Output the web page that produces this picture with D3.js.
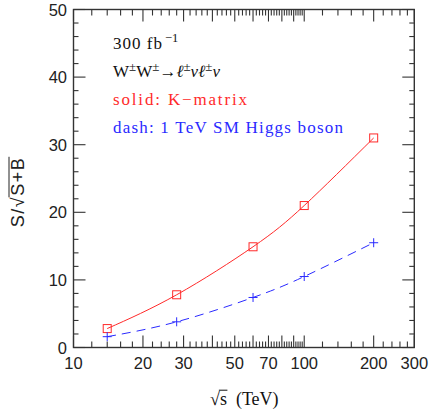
<!DOCTYPE html>
<html><head><meta charset="utf-8">
<script src="https://cdn.jsdelivr.net/npm/d3@7"></script>
<style>html,body{margin:0;padding:0;background:#fff;}</style>
</head><body>
<svg id="c" width="432" height="415"></svg>
<script>
// ---- data ----
const energies = [14, 28, 60, 100, 200];              // sqrt(s) in TeV
const kMatrix = [2.8, 7.8, 14.9, 21.0, 31.0];         // solid red
const higgs = [1.6, 3.8, 7.4, 10.5, 15.5];             // dashed blue
const xMajorTicks = [10, 20, 30, 40, 50, 60, 70, 80, 90, 100, 200, 300];
const xTickLabels = [10, 20, 30, 50, 70, 100, 200, 300];
const xMinorTicks = [12,14,16,18,22,24,26,28,32,34,36,38,42,44,46,48,52,54,56,58,62,64,66,68,72,74,76,78,82,84,86,88,92,94,96,98,120,140,160,180,220,240,260,280];
const yMajorTicks = [0, 10, 20, 30, 40, 50];
const yMinorTicks = d3.range(0, 51, 2).filter(v => v % 10 !== 0);
const annotations = ["300 fb", "solid: K\u2212matrix", "dash: 1 TeV SM Higgs boson"];

const svg = d3.select("#c");
const L = 73.5, R = 414.3, T = 9.5, B = 347.5;
const x = d3.scaleLog().domain([10, 300]).range([L, R]);
const y = d3.scaleLinear().domain([0, 50]).range([B, T]);
const frameColor = "#333";
const RED = "#ff2a2a", BLUE = "#2a2aff";

svg.append("rect").attr("x", L).attr("y", T).attr("width", R - L).attr("height", B - T)
  .attr("fill", "none").attr("stroke", frameColor).attr("stroke-width", 1.4);

const g = svg.append("g").attr("stroke", frameColor).attr("stroke-width", 1.1);
xMajorTicks.forEach(v => {
  g.append("line").attr("x1", x(v)).attr("x2", x(v)).attr("y1", B).attr("y2", B - 12);
  g.append("line").attr("x1", x(v)).attr("x2", x(v)).attr("y1", T).attr("y2", T + 12);
});
xMinorTicks.forEach(v => {
  g.append("line").attr("x1", x(v)).attr("x2", x(v)).attr("y1", B).attr("y2", B - 6);
  g.append("line").attr("x1", x(v)).attr("x2", x(v)).attr("y1", T).attr("y2", T + 6);
});
yMajorTicks.forEach(v => {
  g.append("line").attr("x1", L).attr("x2", L + 12).attr("y1", y(v)).attr("y2", y(v));
  g.append("line").attr("x1", R).attr("x2", R - 12).attr("y1", y(v)).attr("y2", y(v));
});
yMinorTicks.forEach(v => {
  g.append("line").attr("x1", L).attr("x2", L + 5).attr("y1", y(v)).attr("y2", y(v));
  g.append("line").attr("x1", R).attr("x2", R - 5).attr("y1", y(v)).attr("y2", y(v));
});

const sans = "'Liberation Sans', Arial, sans-serif";
const serif = "'Liberation Serif', 'Times New Roman', serif";
svg.append("g").selectAll("text").data(xTickLabels).join("text")
  .attr("x", d => x(d)).attr("y", 368.5).attr("text-anchor", "middle")
  .attr("font-family", sans).attr("font-size", 16.5).attr("fill", "#222").text(d => d);
svg.append("g").selectAll("text").data(yMajorTicks).join("text")
  .attr("x", 67).attr("y", d => y(d) + 6).attr("text-anchor", "end")
  .attr("font-family", sans).attr("font-size", 16.5).attr("fill", "#222").text(d => d);

const line = d3.line().curve(d3.curveNatural);
const redPts = energies.map((e, i) => [x(e), y(kMatrix[i])]);
const bluePts = energies.map((e, i) => [x(e), y(higgs[i])]);
svg.append("path").attr("d", line(redPts)).attr("fill", "none").attr("stroke", RED).attr("stroke-width", 1);
svg.append("path").attr("d", line(bluePts)).attr("fill", "none").attr("stroke", BLUE).attr("stroke-width", 1)
  .attr("stroke-dasharray", "9,6");

svg.append("g").selectAll("rect").data(redPts).join("rect")
  .attr("x", d => d[0] - 4).attr("y", d => d[1] - 4).attr("width", 8).attr("height", 8)
  .attr("fill", "none").attr("stroke", RED).attr("stroke-width", 1);
const cross = svg.append("g").attr("stroke", BLUE).attr("stroke-width", 1);
bluePts.forEach(d => {
  cross.append("line").attr("x1", d[0] - 4.5).attr("x2", d[0] + 4.5).attr("y1", d[1]).attr("y2", d[1]);
  cross.append("line").attr("x1", d[0]).attr("x2", d[0]).attr("y1", d[1] - 4.5).attr("y2", d[1] + 4.5);
});

// annotations
const FS = 17;
const a1 = svg.append("text").attr("x", 113).attr("y", 49).attr("font-family", serif)
  .attr("font-size", FS).attr("fill", "#111");
a1.append("tspan").text(annotations[0]).attr("textLength", 49);
a1.append("tspan").attr("x", 165).attr("dy", -7).attr("font-size", 12.5).text("\u22121");

// W±W± → ℓ±νℓ±ν
const a2 = svg.append("text").attr("x", 113).attr("y", 77).attr("font-family", serif)
  .attr("font-size", FS).attr("fill", "#111");
const parts = [["W",0,null],["\u00B1",-6,13],["W",6,null],["\u00B1",-6,13],["\u2192",6,17],
  ["\u2113",0,null,true],["\u00B1",-6,13],["\u03BD",6,null,true],["\u2113",0,null,true],["\u00B1",-6,13],["\u03BD",6,null,true]];
parts.forEach(p => {
  const t = a2.append("tspan").attr("dy", p[1]).text(p[0]);
  if (p[2]) t.attr("font-size", p[2]);
  if (p[3]) t.attr("font-style", "italic");
});
svg.append("text").attr("x", 113).attr("y", 105).attr("font-family", serif).attr("font-size", FS)
  .attr("fill", RED).attr("textLength", 134).text(annotations[1]);
svg.append("text").attr("x", 113).attr("y", 133).attr("font-family", serif).attr("font-size", FS)
  .attr("fill", BLUE).attr("textLength", 230).text(annotations[2]);

// x axis title: √s (TeV)
const xt = svg.append("text").attr("x", 210).attr("y", 405).attr("font-family", serif)
  .attr("font-size", 18).attr("fill", "#111").text("\u221As\u00A0\u00A0(TeV)");
{
  const n = xt.node();
  const s0 = n.getStartPositionOfChar(1).x, s1 = n.getEndPositionOfChar(1).x;
  const bb = n.getExtentOfChar(0);
  svg.append("line").attr("x1", s0 - 1).attr("x2", s1 + 0.5).attr("y1", bb.y + 1.2).attr("y2", bb.y + 1.2)
    .attr("stroke", "#111").attr("stroke-width", 1);
}

// y axis title: S/√(S+B)
const yg = svg.append("g").attr("transform", "translate(24,192) rotate(-90)");
const yt = yg.append("text").attr("x", 0).attr("y", 0).attr("text-anchor", "middle").attr("font-family", sans)
  .attr("font-size", 18).attr("fill", "#222").attr("letter-spacing", 1.5).text("S/\u221AS+B");
{
  const n = yt.node();
  const a = n.getStartPositionOfChar(3).x, b = n.getEndPositionOfChar(5).x;
  const bb = n.getExtentOfChar(2);
  yg.append("line").attr("x1", a - 1.5).attr("x2", b).attr("y1", bb.y + 1).attr("y2", bb.y + 1)
    .attr("stroke", "#222").attr("stroke-width", 1);
}
</script>
</body></html>
